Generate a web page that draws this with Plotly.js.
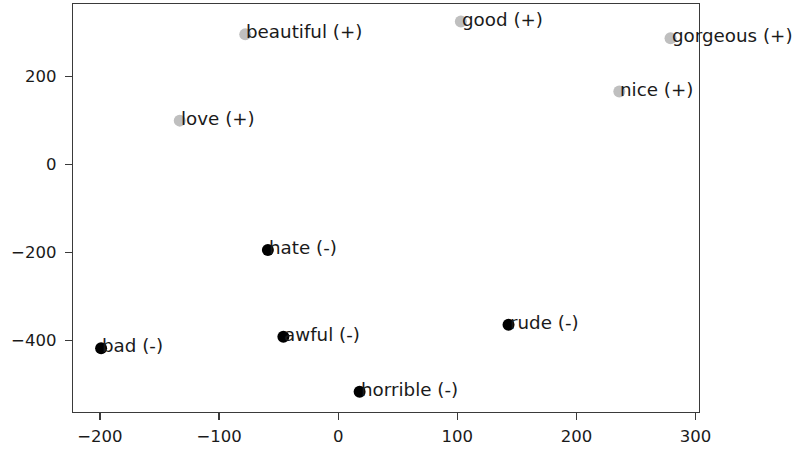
<!DOCTYPE html>
<html>
<head>
<meta charset="utf-8">
<script src="https://cdn.plot.ly/plotly-3.0.1.min.js"></script>
<style>html,body{margin:0;padding:0;background:#fff;}#chart{width:794px;height:449px;}</style>
</head>
<body>
<div id="chart"></div>
<script>
// Data
const posWords = ["beautiful (+)", "love (+)", "good (+)", "gorgeous (+)", "nice (+)"];
const posX = [-78, -133, 103, 279, 236];
const posY = [295, 99, 324, 286, 165];

const negWords = ["hate (-)", "bad (-)", "awful (-)", "horrible (-)", "rude (-)"];
const negX = [-59, -199, -46, 18, 143];
const negY = [-195, -418, -392, -517, -365];

const xTicks = [-200, -100, 0, 100, 200, 300];
const yTicks = [-400, -200, 0, 200];

const FONT = "DejaVu Sans";
const FS = 16.5;
const LFS = 18.3;

function labels(words, xs, ys) {
  return words.map((w, i) => ({
    x: xs[i], y: ys[i], text: w, showarrow: false,
    xanchor: "left", yanchor: "bottom", borderpad: 0,
    xshift: 0, yshift: -9,
    font: {family: FONT, size: LFS, color: "#1a1a1a"}
  }));
}

const traces = [
  {x: posX, y: posY, mode: "markers", type: "scatter",
   marker: {color: "#bfbfbf", size: 12}, hoverinfo: "skip"},
  {x: negX, y: negY, mode: "markers", type: "scatter",
   marker: {color: "#000000", size: 12}, hoverinfo: "skip"}
];

const axisCommon = {
  showgrid: false, zeroline: false, showline: true, mirror: true,
  linecolor: "#3a3a3a", linewidth: 1.3,
  ticks: "outside", ticklen: 7, tickwidth: 1.2, tickcolor: "#3a3a3a",
  tickfont: {family: FONT, size: FS, color: "#1a1a1a"}
};

const layout = {
  width: 794, height: 449,
  margin: {l: 73, r: 95, t: 4, b: 37},
  paper_bgcolor: "#ffffff", plot_bgcolor: "#ffffff",
  showlegend: false,
  xaxis: Object.assign({}, axisCommon, {range: [-222.6, 302.9], tickvals: xTicks, ticklabelstandoff: 2}),
  yaxis: Object.assign({}, axisCommon, {range: [-563, 364], tickvals: yTicks, ticklabelstandoff: 5}),
  annotations: labels(posWords, posX, posY).concat(labels(negWords, negX, negY))
};

Plotly.newPlot("chart", traces, layout, {displayModeBar: false, staticPlot: true});
</script>
</body>
</html>
